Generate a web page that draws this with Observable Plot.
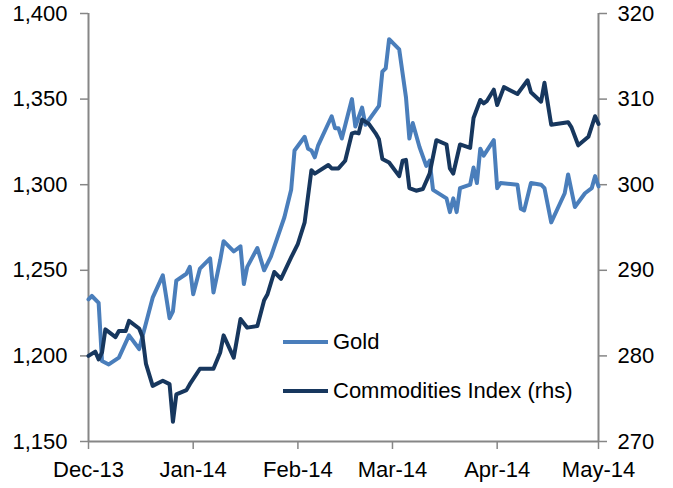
<!DOCTYPE html>
<html>
<head>
<meta charset="utf-8">
<script src="https://cdn.jsdelivr.net/npm/d3@7"></script>
<script src="https://cdn.jsdelivr.net/npm/@observablehq/plot@0.6"></script>
<style>
  html, body { margin: 0; padding: 0; background: #fff; }
  #wrap { position: relative; width: 673px; height: 488px; font-family: "Liberation Sans", Arial, sans-serif; }
  #legend { position: absolute; left: 283px; top: 326px; font-size: 22px; color: #000; }
  .row { display: flex; align-items: center; height: 32px; margin-bottom: 17px; }
  .sw { width: 45px; height: 4px; margin-right: 5px; }
</style>
</head>
<body>
<div id="wrap"></div>
<script>
// Gold (lhs, USD/oz)
const goldDates = ["2013-12-01","2013-12-02","2013-12-04","2013-12-05","2013-12-07","2013-12-10","2013-12-13","2013-12-16","2013-12-20","2013-12-23","2013-12-25","2013-12-26","2013-12-27","2013-12-30","2013-12-31","2014-01-01","2014-01-03","2014-01-06","2014-01-07","2014-01-09","2014-01-10","2014-01-13","2014-01-15","2014-01-16","2014-01-17","2014-01-20","2014-01-22","2014-01-24","2014-01-28","2014-01-30","2014-01-31","2014-02-03","2014-02-04","2014-02-05","2014-02-06","2014-02-07","2014-02-11","2014-02-12","2014-02-13","2014-02-14","2014-02-17","2014-02-18","2014-02-20","2014-02-21","2014-02-25","2014-02-26","2014-02-27","2014-02-28","2014-03-03","2014-03-05","2014-03-06","2014-03-07","2014-03-09","2014-03-11","2014-03-12","2014-03-13","2014-03-17","2014-03-18","2014-03-19","2014-03-20","2014-03-21","2014-03-24","2014-03-25","2014-03-26","2014-03-27","2014-03-28","2014-03-31","2014-04-01","2014-04-02","2014-04-07","2014-04-08","2014-04-09","2014-04-11","2014-04-14","2014-04-15","2014-04-17","2014-04-21","2014-04-22","2014-04-24","2014-04-27","2014-04-29","2014-04-30","2014-05-01"];
const goldValues = [1233,1235,1231,1197,1195,1199,1212,1204,1234,1247,1222,1226,1244,1248,1252,1236,1251,1257,1237,1256,1267,1261,1264,1242,1252,1263,1250,1258,1281,1297,1320,1328,1321,1320,1316,1323,1340,1333,1333,1327,1350,1334,1345,1335,1346,1366,1368,1385,1379,1351,1327,1336,1322,1311,1314,1297,1292,1284,1292,1284,1298,1300,1310,1301,1321,1317,1326,1298,1301,1300,1286,1285,1301,1300,1298,1278,1295,1306,1287,1295,1298,1305,1299];

// Commodities Index (rhs)
const indexDates = ["2013-12-01","2013-12-03","2013-12-04","2013-12-05","2013-12-06","2013-12-09","2013-12-10","2013-12-12","2013-12-13","2013-12-16","2013-12-17","2013-12-18","2013-12-20","2013-12-23","2013-12-25","2013-12-26","2013-12-27","2013-12-30","2013-12-31","2014-01-03","2014-01-07","2014-01-09","2014-01-10","2014-01-13","2014-01-15","2014-01-17","2014-01-20","2014-01-22","2014-01-23","2014-01-25","2014-01-27","2014-01-30","2014-02-01","2014-02-03","2014-02-05","2014-02-06","2014-02-10","2014-02-11","2014-02-13","2014-02-15","2014-02-17","2014-02-18","2014-02-19","2014-02-20","2014-02-22","2014-02-24","2014-02-25","2014-02-26","2014-02-28","2014-03-03","2014-03-04","2014-03-05","2014-03-06","2014-03-08","2014-03-10","2014-03-12","2014-03-14","2014-03-17","2014-03-18","2014-03-19","2014-03-21","2014-03-24","2014-03-25","2014-03-27","2014-03-28","2014-03-29","2014-03-31","2014-04-01","2014-04-03","2014-04-07","2014-04-10","2014-04-11","2014-04-14","2014-04-15","2014-04-17","2014-04-22","2014-04-23","2014-04-25","2014-04-28","2014-04-30","2014-05-01"];
const indexValues = [280.0,280.5,279.6,280.4,283.1,282.2,282.9,282.9,284.1,283.2,282.2,279.1,276.5,277.1,276.7,272.3,275.5,276.0,276.7,278.5,278.5,280.4,282.4,279.8,284.3,283.3,283.5,286.5,287.2,289.8,289.0,291.5,293.1,295.6,301.7,301.3,302.3,301.9,301.9,302.8,306.0,306.1,306.0,307.6,307.1,306.0,305.3,303.0,302.6,301.0,302.8,302.9,299.6,299.3,299.5,301.3,305.2,304.7,301.9,301.3,304.7,304.3,307.8,309.9,309.5,309.8,311.1,309.3,311.4,310.6,312.2,310.8,309.7,311.9,307.0,307.3,306.7,304.6,305.6,308.0,307.1];

const seriesNames = ["Gold", "Commodities Index (rhs)"];
const seriesColors = ["#4A7EBB", "#17375E"];
const xDomain = ["2013-12-01", "2014-05-01"];
const xTickLabels = ["Dec-13", "Jan-14", "Feb-14", "Mar-14", "Apr-14", "May-14"];
const leftDomain = [1150, 1400];
const leftTicks = [1150, 1200, 1250, 1300, 1350, 1400];
const rightDomain = [270, 320];

const parse = s => new Date(s + "T00:00:00Z");
const gold = goldDates.map((d, i) => ({date: parse(d), value: goldValues[i]}));
// map rhs values onto lhs scale
const toLeft = v => leftDomain[0] + (v - rightDomain[0]) * (leftDomain[1] - leftDomain[0]) / (rightDomain[1] - rightDomain[0]);
const toRight = v => rightDomain[0] + (v - leftDomain[0]) * (rightDomain[1] - rightDomain[0]) / (leftDomain[1] - leftDomain[0]);
const idx = indexDates.map((d, i) => ({date: parse(d), value: toLeft(indexValues[i])}));
const xTicks = d3.utcMonth.range(parse(xDomain[0]), d3.utcDay.offset(parse(xDomain[1]), 1));
const tickLabel = d => xTickLabels[xTicks.findIndex(t => +t === +d)];

const gray = "#868686";
const chart = Plot.plot({
  width: 673,
  height: 488,
  marginLeft: 88,
  marginRight: 75,
  marginTop: 13,
  marginBottom: 47,
  style: {fontFamily: "'Liberation Sans', Arial, sans-serif", fontSize: "22px", color: "#000", background: "#fff"},
  x: {type: "utc", domain: xDomain.map(parse)},
  y: {domain: leftDomain},
  marks: [
    Plot.axisX(xTicks, {tickSize: 8, tickPadding: 12, stroke: gray, strokeWidth: 1.5, fill: "#000", tickFormat: tickLabel, label: null, fontSize: 22}),
    Plot.axisY(leftTicks, {anchor: "left", tickSize: 8, tickPadding: 13, stroke: gray, strokeWidth: 1.5, fill: "#000", tickFormat: d3.format(","), label: null, fontSize: 22}),
    Plot.axisY(leftTicks, {anchor: "right", tickSize: 8, tickPadding: 11, stroke: gray, strokeWidth: 1.5, fill: "#000", tickFormat: d => String(Math.round(toRight(d))), label: null, fontSize: 22}),
    Plot.ruleX([parse(xDomain[0]), parse(xDomain[1])], {stroke: gray, strokeWidth: 2}),
    Plot.ruleY([leftDomain[0]], {stroke: gray, strokeWidth: 2}),
    Plot.line(gold, {x: "date", y: "value", stroke: seriesColors[0], strokeWidth: 4, strokeLinejoin: "round"}),
    Plot.line(idx, {x: "date", y: "value", stroke: seriesColors[1], strokeWidth: 4, strokeLinejoin: "round"})
  ]
});
const wrap = document.getElementById("wrap");
wrap.appendChild(chart);
const legend = document.createElement("div");
legend.id = "legend";
seriesNames.forEach((n, i) => {
  const row = document.createElement("div");
  row.className = "row";
  const sw = document.createElement("span");
  sw.className = "sw";
  sw.style.background = seriesColors[i];
  const t = document.createElement("span");
  t.textContent = n;
  row.appendChild(sw);
  row.appendChild(t);
  legend.appendChild(row);
});
wrap.appendChild(legend);
</script>
</body>
</html>
